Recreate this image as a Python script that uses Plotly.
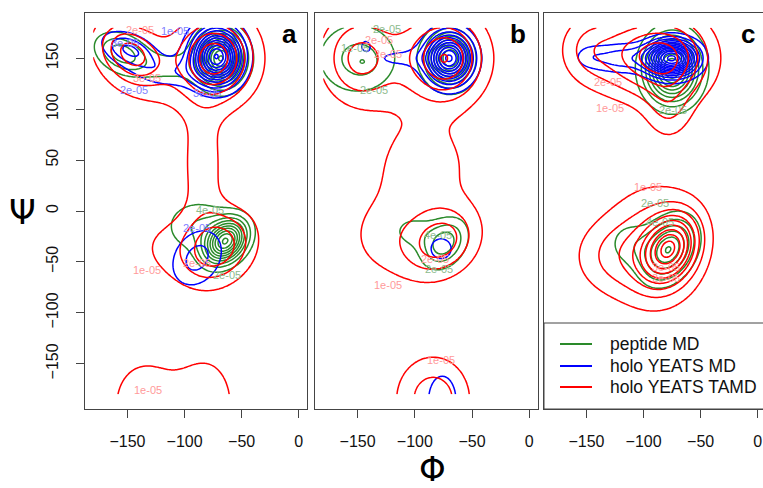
import numpy as np
import plotly.graph_objects as go

# ---------------- data ----------------
# grid of dihedral angles (degrees)
phi_grid = np.arange(-180, 0.1, 2.0)
psi_grid = np.arange(-180, 180.1, 2.0)

series_names = ["peptide MD", "holo YEATS MD", "holo YEATS TAMD"]
series_colors = ["#2a8a2a", "#0000ff", "#ff0000"]
label_colors = ["#8dbb8d", "#8080ff", "#ff9a9a"]
panel_letters = ["a", "b", "c"]

# density modes per panel/series: (phi, psi, sd_phi, sd_psi, peak [x1e-05], corr)
green_a = [(-68, 150, 13, 17, 11.0, 0.0), (-155, 155, 15, 13, 3.6, -0.3), (-112, 142, 22, 12, 1.3, 0.0),
           (-64, -30, 12, 14, 9.5, 0.3), (-88, -15, 20, 18, 2.0, 0.0)]
blue_a = [(-72, 152, 14, 18, 13.0, 0.0), (-148, 158, 16, 12, 3.2, -0.4), (-112, 136, 22, 11, 1.6, 0.0),
          (-89, -46, 16, 20, 2.4, 0.25)]
red_a = [(-72, 150, 22, 28, 4.6, 0.0), (-148, 155, 18, 20, 3.4, -0.3), (-112, 150, 45, 38, 1.5, 0.0),
         (-84, 45, 14, 40, 1.5, 0.0), (-70, -36, 22, 25, 3.4, 0.2), (-115, -35, 30, 28, 1.0, 0.0),
         (-135, -190, 25, 38, 1.6, 0.0), (-80, -190, 20, 38, 1.6, 0.0)]

green_b = [(-69, 150, 13, 17, 9.0, 0.0), (-150, 150, 25, 25, 2.3, 0.0), (-145, 146, 7, 7, 0.8, 0.0),
           (-74, -32, 13, 16, 3.6, 0.3), (-102, -20, 15, 13, 1.3, 0.0)]
blue_b = [(-70, 150, 13, 16, 11.0, 0.0), (-112, 150, 24, 8, 1.2, 0.0), (-143, 163, 5, 6, 1.1, 0.0),
          (-77, -37, 9, 10, 1.6, 0.0), (-76, -186, 11, 22, 1.8, 0.0)]
red_b = [(-72, 150, 22, 28, 4.0, 0.0), (-150, 150, 20, 28, 2.3, 0.0), (-112, 150, 45, 38, 1.5, 0.0),
         (-92, 45, 32, 32, 1.5, 0.0), (-76, -30, 22, 24, 3.3, 0.2), (-125, -25, 28, 32, 1.3, 0.0),
         (-84, -185, 23, 30, 2.6, 0.0)]

green_c = [(-75, 140, 15, 21, 10.0, 0.0), (-78, -38, 15, 20, 6.0, 0.3), (-112, -32, 14, 16, 1.5, 0.0)]
blue_c = [(-75, 150, 14, 11, 13.0, 0.0), (-118, 150, 22, 10, 2.6, 0.0), (-148, 152, 9, 8, 0.8, 0.0)]
red_c = [(-78, 150, 26, 28, 4.5, 0.0), (-120, 155, 30, 28, 2.6, 0.0), (-150, 160, 15, 20, 1.0, 0.0),
         (-78, 98, 14, 20, 1.5, 0.0),
         (-77, -37, 16, 22, 7.0, 0.25), (-90, -35, 30, 42, 2.5, 0.0), (-128, -45, 25, 25, 1.5, 0.0)]

panel_modes = [[green_a, blue_a, red_a], [green_b, blue_b, red_b], [green_c, blue_c, red_c]]

# contour labels: (panel, series index, phi, psi, text)
contour_labels = [
    (0, 2, -139, 178, "2e-05"), (0, 1, -108, 177, "1e-05"), (0, 1, -152, 165, "3e-05"),
    (0, 2, -133, 131, "3e-05"), (0, 1, -144, 119, "2e-05"), (0, 1, -80, 116, "3e-05"),
    (0, 2, -133, -58, "1e-05"), (0, 2, -132, -176, "1e-05"), (0, 0, -78, 1, "4e-05"),
    (0, 1, -89, -17, "2e-05"), (0, 2, -89, -51, "2e-05"), (0, 0, -63, -63, "2e-05"),
    (1, 0, -124, 179, "2e-05"), (1, 2, -131, 168, "2e-05"), (1, 0, -152, 160, "1e-05"),
    (1, 2, -123, 154, "2e-05"), (1, 0, -136, 119, "2e-05"), (1, 2, -123, -73, "1e-05"),
    (1, 0, -80, -24, "4e-05"), (1, 2, -82, -47, "2e-05"), (1, 0, -79, -57, "2e-05"),
    (1, 2, -77, -146, "1e-05"),
    (2, 2, -131, 127, "2e-05"), (2, 2, -129, 101, "1e-05"), (2, 0, -74, 99, "2e-05"),
    (2, 2, -96, 24, "1e-05"), (2, 0, -90, 8, "2e-05"), (2, 0, -86, -11, "4e-05"),
    (2, 2, -80, -55, "3e-05"), (2, 2, -80, -66, "2e-05"),
]

x_ticks = [-150, -100, -50, 0]
y_ticks = [-150, -100, -50, 0, 50, 100, 150]

# ---------------- build ----------------
W, H = 763, 488
PHI, PSI = np.meshgrid(phi_grid, psi_grid)


def density(modes):
    z = np.zeros_like(PHI)
    for (mx, my, sx, sy, amp, rho) in modes:
        dx = (PHI - mx) / sx
        dy = (PSI - my) / sy
        q = (dx * dx - 2 * rho * dx * dy + dy * dy) / (1 - rho * rho)
        z += amp * np.exp(-0.5 * q)
    return z * 1e-5


fig = go.Figure()

x_domains = [[85 / W, 307 / W], [315 / W, 537.5 / W], [544 / W, 1.0]]
x_ranges = [[-187.2, 7.2], [-187.2, 7.2], [-187.2, 4.6]]
y_range = [-194.4, 194.4]
y_domain = [(H - 409) / H, (H - 13) / H]
font = "Liberation Sans, Arial, sans-serif"
frame = "#444"

for p in range(3):
    xa = "x" if p == 0 else f"x{p + 1}"
    ya = "y" if p == 0 else f"y{p + 1}"
    for s in range(3):
        z = density(panel_modes[p][s])
        fig.add_trace(go.Contour(
            x=phi_grid, y=psi_grid, z=z, xaxis=xa, yaxis=ya,
            autocontour=False, name=series_names[s],
            contours=dict(start=1e-5, end=40e-5, size=1e-5, coloring="none"),
            line=dict(color=series_colors[s], width=1.5, smoothing=1.0),
            showscale=False, showlegend=False, hoverinfo="skip",
        ))
    ax = dict(domain=x_domains[p], range=x_ranges[p], tickvals=x_ticks,
              ticks="outside", ticklen=8, tickcolor=frame, showline=True, mirror=True,
              linecolor=frame, linewidth=1, showgrid=False, zeroline=False,
              ticklabelstandoff=10, ticklabeloverflow="allow",
              tickfont=dict(family=font, size=16, color="#111"))
    ay = dict(domain=y_domain, range=y_range, showline=True, mirror=True,
              linecolor=frame, linewidth=1, showgrid=False, zeroline=False,
              showticklabels=False)
    if p == 0:
        ay.update(tickvals=y_ticks, ticks="outside", ticklen=8, tickcolor=frame)
    else:
        ay.update(ticks="")
    ay["anchor"] = xa
    ax["anchor"] = ya
    key = "" if p == 0 else str(p + 1)
    fig.layout["xaxis" + key] = ax
    fig.layout["yaxis" + key] = ay

# y tick labels of panel a, on an overlaying free axis placed a bit further left
fig.add_trace(go.Scatter(x=[None], y=[None], xaxis="x", yaxis="y4", showlegend=False,
                         hoverinfo="skip"))
fig.layout["yaxis4"] = dict(overlaying="y", anchor="free", position=61 / W, side="left",
                            range=y_range, tickvals=y_ticks, ticks="", showline=False,
                            showgrid=False, zeroline=False, tickangle=-90,
                            tickfont=dict(family=font, size=16, color="#111"))

annotations = []
for (p, s, lx, ly, txt) in contour_labels:
    xa = "x" if p == 0 else f"x{p + 1}"
    ya = "y" if p == 0 else f"y{p + 1}"
    annotations.append(dict(x=lx, y=ly, xref=xa, yref=ya, text=txt, showarrow=False,
                            xanchor="center", yanchor="middle",
                            font=dict(family=font, size=11, color=label_colors[s])))

letter_x = [289, 518, 748]
for p in range(3):
    annotations.append(dict(x=letter_x[p] / W, y=1 - 34 / H, xref="paper", yref="paper",
                            xanchor="center", yanchor="middle",
                            text=f"<b>{panel_letters[p]}</b>", showarrow=False,
                            font=dict(family=font, size=26, color="black")))

annotations.append(dict(x=22 / W, y=1 - 212 / H, xref="paper", yref="paper", text="Ψ",
                        xanchor="center", yanchor="middle",
                        showarrow=False, font=dict(family="DejaVu Sans", size=34, color="black")))
annotations.append(dict(x=432 / W, y=1 - 469 / H, xref="paper", yref="paper", text="Φ",
                        xanchor="center", yanchor="middle",
                        showarrow=False, font=dict(family="DejaVu Sans", size=34, color="black")))

# legend (drawn inside panel c, R style box)
legend_y = [344, 366, 387]
shapes = [dict(type="rect", xref="paper", yref="paper", x0=544 / W, x1=1.01,
               y0=(H - 409) / H, y1=(H - 323) / H, line=dict(color=frame, width=1),
               fillcolor="white", layer="above")]
for s in range(3):
    shapes.append(dict(type="line", xref="paper", yref="paper", x0=560 / W, x1=592 / W,
                       y0=1 - legend_y[s] / H, y1=1 - legend_y[s] / H,
                       line=dict(color=series_colors[s], width=2), layer="above"))
    annotations.append(dict(x=608 / W, y=1 - legend_y[s] / H, xref="paper", yref="paper",
                            xanchor="left", yanchor="middle", text=series_names[s],
                            showarrow=False, font=dict(family=font, size=17.5, color="#111")))

fig.update_layout(
    width=W, height=H, margin=dict(l=0, r=0, t=0, b=0, autoexpand=False),
    paper_bgcolor="white", plot_bgcolor="white",
    annotations=annotations, shapes=shapes, showlegend=False,
)

fig.write_html("out.html", config={"displayModeBar": False},
               post_script="document.body.style.margin='0px';")
